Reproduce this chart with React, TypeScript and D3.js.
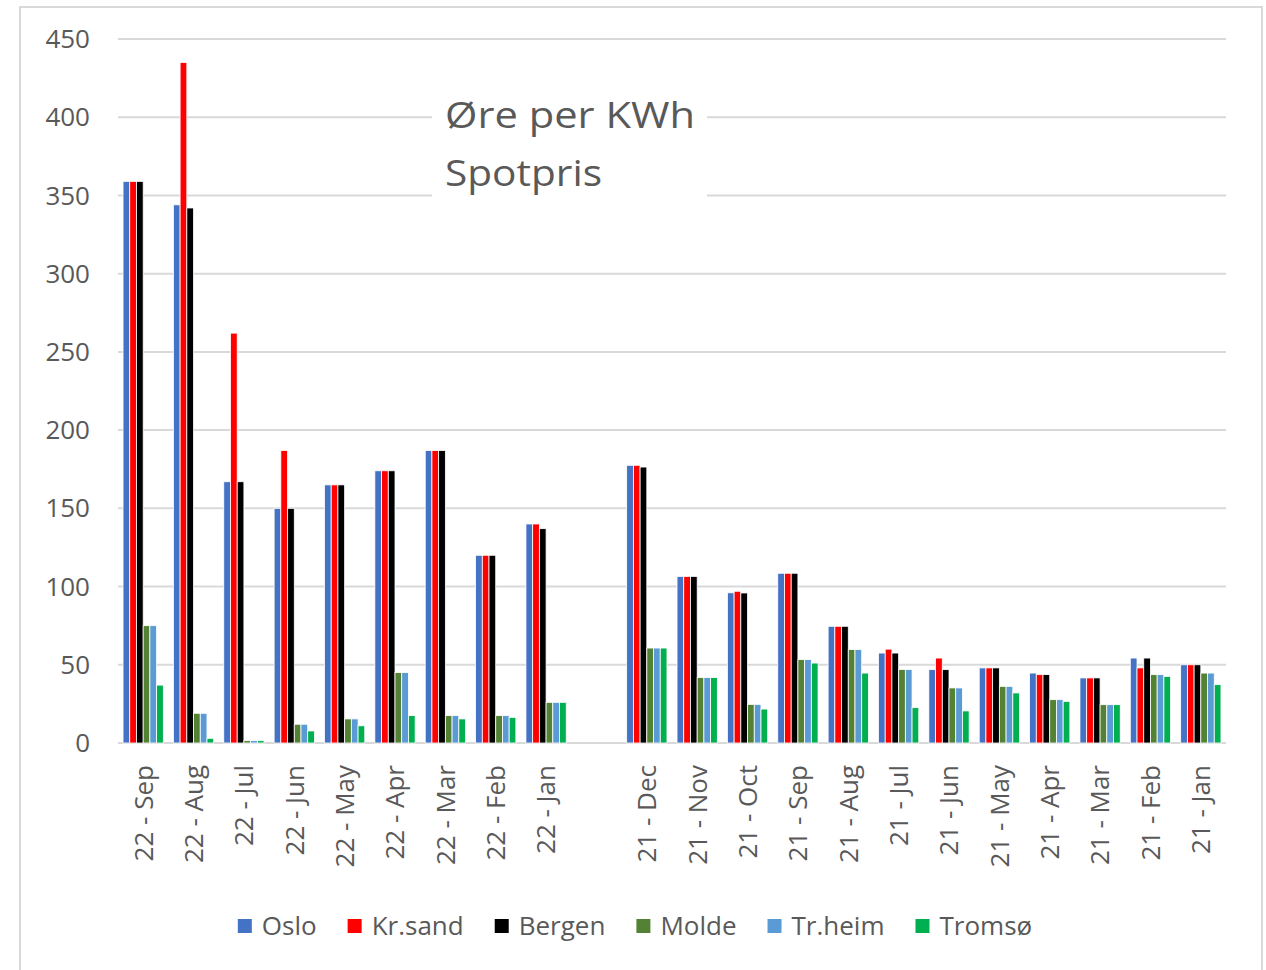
import { useEffect, useRef } from "react";
import * as d3 from "d3";

// months shown on the x axis, newest first; "" is the empty slot between the two years
const categories = [
  "22 - Sep", "22 - Aug", "22 - Jul", "22 - Jun", "22 - May", "22 - Apr", "22 - Mar", "22 - Feb", "22 - Jan",
  "",
  "21 - Dec", "21 - Nov", "21 - Oct", "21 - Sep", "21 - Aug", "21 - Jul", "21 - Jun", "21 - May", "21 - Apr",
  "21 - Mar", "21 - Feb", "21 - Jan",
];

const seriesNames = ["Oslo", "Kr.sand", "Bergen", "Molde", "Tr.heim", "Tromsø"];
const seriesColors = ["#4472C4", "#FF0000", "#000000", "#548235", "#5B9BD5", "#00B050"];

// øre per kWh, one value per category (null for the gap)
const oslo = [359, 344, 167, 150, 165, 174, 187, 120, 140, null, 177.5, 106.5, 96, 108.5, 74.6, 57.5, 46.9, 48, 44.7, 41.6, 54.3, 50];
const krsand = [359, 435, 262, 187, 165, 174, 187, 120, 140, null, 177.5, 106.5, 97, 108.5, 74.6, 60, 54.3, 48, 43.7, 41.6, 48, 50];
const bergen = [359, 342, 167, 150, 165, 174, 187, 120, 137, null, 176.4, 106.5, 95.9, 108.5, 74.6, 57.5, 46.9, 48, 43.7, 41.6, 54.3, 50];
const molde = [75, 19, 1.5, 12, 15.4, 45, 17.5, 17.5, 26, null, 60.7, 41.8, 24.7, 53.3, 59.7, 47, 35.2, 36.2, 27.7, 24.5, 43.7, 44.7];
const trheim = [75, 19, 1.5, 12, 15.4, 45, 17.5, 17.5, 26, null, 60.7, 41.8, 24.7, 53.3, 59.7, 47, 35.2, 36.2, 27.7, 24.5, 43.7, 44.7];
const tromso = [37, 3, 1.5, 7.7, 11, 17.5, 15.4, 16.4, 26, null, 60.7, 41.8, 21.7, 51.1, 44.7, 22.6, 20.5, 32, 26.6, 24.5, 42.6, 37.3];

const yTicks = [0, 50, 100, 150, 200, 250, 300, 350, 400, 450];
const titleLines = ["Øre per KWh", "Spotpris"];

const W = 1266;
const H = 970;
const plot = { left: 118, right: 1226, top: 39, bottom: 743 };
const font = "'Open Sans', sans-serif";
const textColor = "#595959";
const gridColor = "#d9d9d9";

export default function App() {
  const ref = useRef<SVGSVGElement>(null);

  useEffect(() => {
    const svg = d3.select(ref.current);
    svg.selectAll("*").remove();

    const values = [oslo, krsand, bergen, molde, trheim, tromso];

    const x = d3.scaleBand<number>()
      .domain(d3.range(categories.length))
      .range([plot.left, plot.right])
      .paddingInner(0.2)
      .paddingOuter(0.1);

    const xs = d3.scaleBand<number>()
      .domain(d3.range(seriesNames.length))
      .range([0, x.bandwidth()]);

    const y = d3.scaleLinear().domain([0, 450]).range([plot.bottom, plot.top]);

    // outer frame
    svg.append("rect")
      .attr("x", 20).attr("y", 7)
      .attr("width", 1242).attr("height", 975)
      .attr("fill", "white")
      .attr("stroke", gridColor).attr("stroke-width", 2);

    // gridlines
    svg.append("g")
      .selectAll("line")
      .data(yTicks)
      .join("line")
      .attr("x1", plot.left).attr("x2", plot.right)
      .attr("y1", d => y(d)).attr("y2", d => y(d))
      .attr("stroke", gridColor).attr("stroke-width", 2);

    // y tick labels
    svg.append("g")
      .attr("font-family", font).attr("font-size", 26).attr("fill", textColor)
      .attr("text-anchor", "end")
      .selectAll("text")
      .data(yTicks)
      .join("text")
      .attr("x", 90).attr("y", d => y(d)).attr("dy", "0.35em")
      .text(d => d);

    // bars
    values.forEach((series, si) => {
      svg.append("g")
        .selectAll("rect")
        .data(series.map((v, i) => ({ v, i })).filter(d => d.v !== null))
        .join("rect")
        .attr("x", d => (x(d.i) as number) + (xs(si) as number))
        .attr("width", xs.bandwidth())
        .attr("y", d => y(d.v as number))
        .attr("height", d => plot.bottom - y(d.v as number))
        .attr("fill", seriesColors[si])
        .attr("stroke", "white").attr("stroke-width", 0.8);
    });

    // x labels, rotated
    svg.append("g")
      .attr("font-family", font).attr("font-size", 26).attr("fill", textColor)
      .attr("text-anchor", "end")
      .selectAll("text")
      .data(categories.map((c, i) => ({ c, i })).filter(d => d.c !== ""))
      .join("text")
      .attr("transform", d => `translate(${(x(d.i) as number) + x.bandwidth() / 2},765) rotate(-90)`)
      .attr("dy", "0.36em")
      .text(d => d.c);

    // title with white box behind it
    svg.append("rect")
      .attr("x", 432).attr("y", 88).attr("width", 275).attr("height", 109)
      .attr("fill", "white");
    svg.append("g")
      .attr("font-family", font).attr("font-size", 36).attr("fill", textColor)
      .selectAll("text")
      .data(titleLines)
      .join("text")
      .attr("x", 445)
      .attr("y", (d, i) => 128 + i * 58)
      .attr("textLength", (d, i) => (i === 0 ? 250 : 157))
      .attr("lengthAdjust", "spacingAndGlyphs")
      .text(d => d);

    // legend, centred
    const legend = svg.append("g")
      .attr("font-family", font).attr("font-size", 26).attr("fill", textColor);
    let cx = 0;
    const items = seriesNames.map((name, i) => {
      const g = legend.append("g");
      g.append("rect")
        .attr("x", 0).attr("y", -7).attr("width", 14).attr("height", 14)
        .attr("fill", seriesColors[i]);
      const t = g.append("text").attr("x", 24).attr("dy", "0.35em").text(name);
      const w = 24 + (t.node() as SVGTextElement).getComputedTextLength();
      g.attr("transform", `translate(${cx},926)`);
      cx += w + 31;
      return g;
    });
    const total = cx - 31;
    legend.attr("transform", `translate(${635 - total / 2},0)`);
    void items;
  }, []);

  return (
    <svg
      ref={ref}
      width={W}
      height={H}
      style={{ position: "absolute", left: 0, top: 0, background: "white" }}
    />
  );
}
